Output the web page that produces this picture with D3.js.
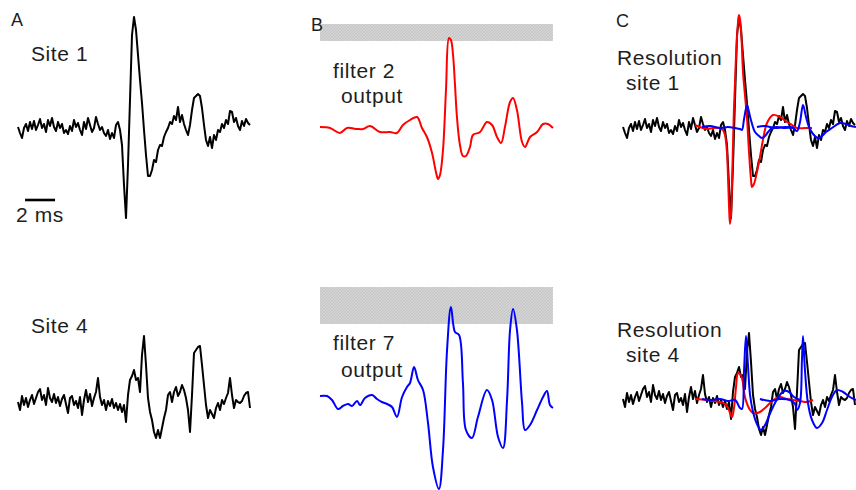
<!DOCTYPE html>
<html>
<head>
<meta charset="utf-8">
<script src="https://cdn.jsdelivr.net/npm/d3@7/dist/d3.min.js"></script>
<style>
  body { margin: 0; background: #fff; }
  svg text { font-family: "Liberation Sans", Arial, sans-serif; fill: #1e1e1e; }
</style>
</head>
<body>
<svg id="fig" width="856" height="490"></svg>
<script>
// raw recordings, one sample every 2/15 ms, amplitude in arbitrary units
var sampleMs = 2 / 15;
var site1 = [
  0, -6, -11, -1, 3, -4, 5, -2, 6, -3,
  2, 8, -1, 3, -5, 7, 1, 9, 0, -4,
  5, -1, 3, -6, -3, -7, 1, -4, 7, 0,
  4, -3, -8, 5, -2, 9, 2, -5, -1, 10,
  3, -3, 0, -6, -9, -3, -12, -6, -11, 2,
  5, -3, -18, -58, -91, -38, 27, 92, 110, 97,
  72, 47, 24, -3, -28, -49, -49, -43, -33, -35,
  -23, -18, -19, -10, -5, -1, 5, 3, 11, 7,
  20, 5, 12, 3, -3, -8, 2, 17, 29, 31,
  33, 31, 19, 2, -13, -19, -10, -21, -8, -13,
  -3, -5, 3, -1, 7, 3, 16, 15, 5, 9,
  1, -3, 6, 1, 8, 4, 2
];
var site4 = [
  1, -7, 7, -2, 5, -4, 3, 8, -1, 5,
  11, 14, 3, 8, -2, 15, 5, 1, 9, 0,
  6, -3, 4, 8, -1, -10, 5, 7, -2, 2,
  -5, 6, -12, 3, 13, 1, 9, -3, 5, 11,
  25, 6, -2, 3, -7, 2, -3, 4, -5, 0,
  -7, -1, -9, -2, -19, 8, 23, 27, 33, 23,
  25, 11, 48, 67, 38, 5, -9, -17, -29, -35,
  -27, -35, -25, -15, -7, 8, 11, 1, 11, 16,
  7, 11, 18, 13, 5, -7, -29, 8, 50, 53,
  56, 57, 38, 18, -2, -15, -7, -11, -15, -5,
  0, -7, 3, -1, 5, 10, 25, 8, -5, 3,
  1, 0, 2, 7, 10, 11, -5
];

// filter outputs, [ms, amplitude]
var filter2Out = [[0,0],[0.67,-1],[1.33,-6],[1.8,-1],[2.47,-2],[2.87,-2],[3.33,1],[4,-5],[4.67,-5],[5.13,-6],
  [5.53,2],[6,7],[6.47,10],[6.8,-1],[7.13,-10],[7.47,-26],[7.73,-45],[7.87,-52],[8,-48],[8.2,-23],
  [8.4,37],[8.6,89],[8.73,87],[8.87,72],[9,42],[9.13,10],[9.33,-18],[9.53,-29],[9.73,-29],[10,-20],
  [10.2,-8],[10.67,-5],[11.13,5],[11.47,2],[11.8,-10],[12.07,-16],[12.33,0],[12.67,25],[12.87,29],[13.13,17],
  [13.47,-15],[13.67,-20],[14,-10],[14.47,-5],[14.87,3],[15.2,3],[15.53,-1]];
var filter7Out = [[0,2],[0.47,2],[0.8,-2],[1.2,-11],[1.53,-8],[1.87,-6],[2.13,-8],[2.47,-3],[2.67,-7],[3,0],
  [3.47,3],[3.8,-1],[4.13,-4],[4.47,-6],[4.8,-9],[5.13,-19],[5.47,1],[5.8,11],[6,15],[6.27,31],
  [6.53,18],[6.87,8],[7.2,-25],[7.53,-69],[7.93,-91],[8.2,-52],[8.47,48],[8.73,91],[9,66],[9.27,63],
  [9.53,15],[9.73,-32],[10.13,-40],[10.53,-19],[11.13,8],[11.47,-2],[11.87,-39],[12.2,-50],[12.47,-2],[12.67,68],
  [12.87,89],[13.13,68],[13.47,-5],[13.67,-32],[14,-27],[14.47,-12],[14.87,1],[15.13,7],[15.33,-7],[15.53,-10]];

// threshold band of each filter output, [low, high] amplitude
var filter2Band = [86, 103];
var filter7Band = [74, 111];

// resolved components laid over the raw traces, [ms, amplitude]
var res1Red = [[4.8,2],[5.13,0],[5.6,-2],[6,-1],[6.47,-1],[6.67,-3],[6.8,-8],[6.93,-25],[7,-50],[7.07,-80],
  [7.13,-97],[7.2,-88],[7.27,-55],[7.33,-20],[7.4,20],[7.47,45],[7.53,70],[7.6,90],[7.67,105],[7.73,112],
  [7.8,108],[7.87,98],[8,55],[8.13,32],[8.27,8],[8.4,-25],[8.53,-52],[8.6,-60],[8.73,-57],[8.93,-45],
  [9.13,-30],[9.33,-13],[9.6,4],[10,12],[10.47,10],[10.93,5],[11.27,2],[11.6,-1],[12.13,-1],[12.6,-1]];
var res1BlueA = [[5.27,0],[5.8,1],[6.47,-1],[7,0],[7.47,-1],[7.8,-2],[7.93,-3],[8.07,8],[8.27,22],[8.4,15],
  [8.53,7],[8.8,-5],[9.07,-9],[9.27,-11],[9.47,-9],[9.67,-5],[9.93,-1],[10.27,0],[10.8,-1],[11.33,0]];
var res1BlueB = [[8.93,0],[9.47,1],[10.13,-1],[10.8,0],[11.33,-1],[11.6,-4],[11.8,5],[12,22],[12.2,10],[12.4,0],
  [12.67,-7],[13,-11],[13.27,-9],[13.53,-5],[13.93,-1],[14.47,4],[14.87,3],[15.2,1],[15.53,0]];
var res4Red = [[4.8,1],[5.6,0],[6.47,-2],[6.8,-4],[7,-8],[7.27,-17],[7.4,-8],[7.53,12],[7.67,27],[7.8,26],
  [7.93,22],[8.13,3],[8.33,-6],[8.47,-10],[8.67,-13],[8.93,-13],[9.13,-12],[9.47,-8],[9.8,-3],[10.13,1],
  [10.47,3],[10.93,1],[11.33,0],[11.8,-1],[12.27,-2],[12.67,0]];
var res4BlueA = [[5.27,1],[5.8,0],[6.47,1],[7,-1],[7.47,0],[7.8,-8],[7.93,-9],[8.07,30],[8.2,64],[8.33,35],
  [8.47,5],[8.67,-12],[8.93,-24],[9.2,-30],[9.47,-25],[9.73,-16],[10,-7],[10.33,2],[10.73,9],[11.07,8],
  [11.4,3],[11.8,0]];
var res4BlueB = [[9.13,1],[9.8,-1],[10.47,1],[11.13,0],[11.47,-4],[11.6,-10],[11.8,-3],[11.93,40],[12,64],[12.13,30],
  [12.33,-3],[12.6,-20],[12.93,-28],[13.27,-23],[13.6,-10],[13.93,3],[14.27,10],[14.67,8],[15.13,3],[15.53,0]];

var svg = d3.select("#fig");

// hatched grey for the threshold bands
var pat = svg.append("defs").append("pattern")
    .attr("id", "hatch")
    .attr("patternUnits", "userSpaceOnUse")
    .attr("width", 3).attr("height", 3);
pat.append("rect").attr("width", 3).attr("height", 3).attr("fill", "#d3d3d3");
pat.append("path").attr("d", "M0,3L3,0").attr("stroke", "#bdbdbd").attr("stroke-width", 0.7);

function xScale(x0){
  return d3.scaleLinear().domain([0, 15.5]).range([x0, x0 + 15.5 * 15]);
}
function yScale(base){
  return d3.scaleLinear().domain([-100, 100]).range([base + 100, base - 100]);
}

var xA = xScale(18), xB = xScale(320), xC = xScale(623);
var yA1 = yScale(127), yB1 = yScale(127), yC1 = yScale(127);
var yA4 = yScale(403), yB4 = yScale(398), yC4 = yScale(400);

function rawTrace(data, x, y){
  svg.append("path")
      .datum(data)
      .attr("fill", "none")
      .attr("stroke", "#000")
      .attr("stroke-width", 2)
      .attr("stroke-linejoin", "round")
      .attr("d", d3.line()
        .x(function(d, i){ return x(i * sampleMs); })
        .y(function(d){ return y(d); }));
}

function smoothTrace(data, x, y, color){
  svg.append("path")
      .datum(data)
      .attr("fill", "none")
      .attr("stroke", color)
      .attr("stroke-width", 2)
      .attr("d", d3.line()
        .curve(d3.curveCatmullRom.alpha(0.5))
        .x(function(d){ return x(d[0]); })
        .y(function(d){ return y(d[1]); }));
}

function band(range, x, y){
  svg.append("rect")
      .attr("x", x(0))
      .attr("y", y(range[1]))
      .attr("width", x(15.53) - x(0))
      .attr("height", y(range[0]) - y(range[1]))
      .attr("fill", "url(#hatch)");
}

function label(txt, x, y, size){
  svg.append("text")
      .attr("x", x).attr("y", y)
      .attr("font-size", size || 21)
      .attr("letter-spacing", size ? 0 : 0.6)
      .text(txt);
}

// A: raw traces
rawTrace(site1, xA, yA1);
rawTrace(site4, xA, yA4);

// scale bar, 2 ms
svg.append("line")
    .attr("x1", xA(0.47)).attr("x2", xA(2.47))
    .attr("y1", yA1(-73)).attr("y2", yA1(-73))
    .attr("stroke", "#000").attr("stroke-width", 2.6);

// B: filter outputs against threshold band
band(filter2Band, xB, yB1);
band(filter7Band, xB, yB4);
smoothTrace(filter2Out, xB, yB1, "#ff0000");
smoothTrace(filter7Out, xB, yB4, "#0000ff");

// C: raw traces with resolved components
rawTrace(site1, xC, yC1);
smoothTrace(res1Red, xC, yC1, "#ff0000");
smoothTrace(res1BlueA, xC, yC1, "#0000ff");
smoothTrace(res1BlueB, xC, yC1, "#0000ff");

rawTrace(site4, xC, yC4);
smoothTrace(res4Red, xC, yC4, "#ff0000");
smoothTrace(res4BlueA, xC, yC4, "#0000ff");
smoothTrace(res4BlueB, xC, yC4, "#0000ff");

// labels
label("A", 11, 26, 18);
label("B", 311, 31, 18);
label("C", 616, 27, 18);
label("Site 1", 31, 61);
label("Site 4", 31, 333);
label("2 ms", 16, 222);
label("filter 2", 333, 78);
label("output", 341, 103);
label("filter 7", 333, 350);
label("output", 341, 377);
label("Resolution", 617, 65);
label("site 1", 626, 90);
label("Resolution", 617, 337);
label("site 4", 626, 362);
</script>
</body>
</html>
